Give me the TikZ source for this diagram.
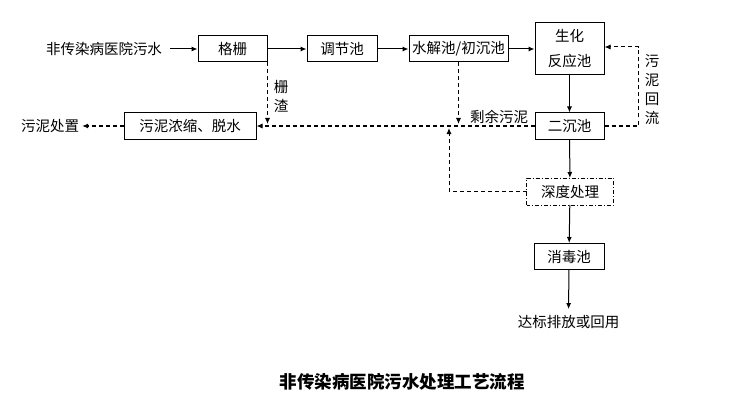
\documentclass[tikz,border=0pt]{standalone}
\usepackage{fontspec}
\setmainfont{Noto Sans CJK SC}
\usetikzlibrary{arrows.meta}

\tikzset{
    box/.style={draw,line width=1pt,minimum height=26pt,inner sep=2pt,font=\fontsize{14.5}{19}\selectfont},
    lbl/.style={inner sep=0pt,align=center,font=\fontsize{14.5}{19}\selectfont},
    flow/.style={->,line width=1pt},
    sludge/.style={->,line width=1pt,dash pattern=on 4pt off 3pt},
}

\begin{document}
\begin{tikzpicture}[>={Latex[length=6pt,width=5pt]},x=1pt,y=-1pt]
        \useasboundingbox (0,0) rectangle (729,404);
        % main line
        \node[lbl,inner sep=8pt] (src) at (104,49) {非传染病医院污水};
        \node[box,minimum width=69pt] (gs) at (232.5,49) {格栅};
        \node[box,minimum width=70pt] (tj) at (342,49) {调节池};
        \node[box,minimum width=99pt] (sj) at (458.5,49) {水解池/初沉池};
        \node[box,minimum width=69pt,minimum height=52pt,align=center] (sh) at (569.5,49) {生化\\[6pt]反应池};
        \node[box,minimum width=69pt] (ec) at (569.5,126) {二沉池};
        \node[box,minimum width=86pt,draw=none] (sd) at (570,191.5) {深度处理};
        \draw[line width=1pt,dash pattern=on 4pt off 2pt on 1pt off 2pt] (sd.south west) rectangle (sd.north east);
        \node[box,minimum width=70pt] (xd) at (569,256.5) {消毒池};
        \node[lbl,inner sep=6pt] (db) at (568.5,322) {达标排放或回用};
        \node[box,minimum width=132pt] (nd) at (190,126) {污泥浓缩、脱水};
        \node[lbl,inner sep=3pt] (cz) at (50,126) {污泥处置};
        \draw[flow](src.east)--(gs);
        \draw[flow](gs)--(tj);
        \draw[flow](tj)--(sj);
        \draw[flow](sj)--(sh);
        \draw[flow](sh)--(ec);
        \draw[flow](ec)--(sd);
        \draw[flow](sd)--(xd);
        \draw[flow](xd)--(db);
        % sludge lines
        \coordinate (hl) at (638,47);
        \coordinate (up) at (449,126);
        \draw[sludge](ec.west)--(nd.east);
        \draw[sludge,shorten >=2pt](gs.south east)--(gs.south east |- nd.east);
        \draw[sludge,shorten >=2pt](sj.south)--(sj.south |- ec.west);
        \draw[sludge,shorten >=2pt](sd.west)-|(up);
        \draw[sludge](ec.east)-|(hl)--(hl -| sh.east);
        \draw[sludge](nd.west)--(cz.east);
        \node[lbl] (zz) at (281,96) {栅\\渣};
        \node[lbl] (sy) at (499,117) {剩余污泥};
        \node[lbl] (hlt) at (652,90) {污\\泥\\回\\流};
        \node[font=\fontsize{17.5}{22}\selectfont\bfseries] (title) at (402,382) {非传染病医院污水处理工艺流程};
    \end{tikzpicture}
\end{document}
